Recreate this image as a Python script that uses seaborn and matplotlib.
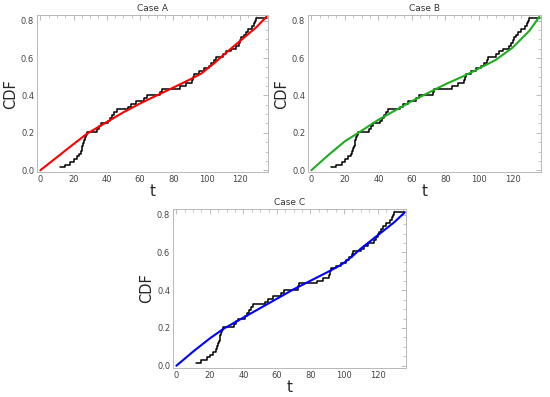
import numpy as np
import pandas as pd
import matplotlib
matplotlib.use("Agg")
import matplotlib.pyplot as plt
import seaborn as sns
from matplotlib.ticker import MultipleLocator

# empirical CDF (same in every panel)
step_t = [12, 15, 18, 20, 22, 23.5, 24.3, 24.8, 25.3, 25.8, 26.3, 26.8, 27.3, 27.8,
          34.3, 35.5, 36.8, 41, 42.2, 43.3, 44.5, 46, 53, 54.5, 57.5, 62.5, 64,
          72.3, 73, 84, 87.5, 91.2, 91.6, 92.5, 95.5, 98.5, 101.5, 103, 104.5, 105.5,
          110, 112, 114.5, 118, 119.3, 120.3, 121, 122.3, 123.5, 125, 127.6, 128.5,
          129.3, 130, 136.5]
step_y = [0.015, 0.029, 0.044, 0.059, 0.074, 0.088, 0.103, 0.118, 0.132, 0.147, 0.162,
          0.176, 0.191, 0.205, 0.22, 0.235, 0.25, 0.265, 0.28, 0.295, 0.31, 0.326,
          0.34, 0.355, 0.37, 0.385, 0.4, 0.42, 0.436, 0.45, 0.465, 0.48, 0.5, 0.515,
          0.53, 0.545, 0.56, 0.575, 0.59, 0.605, 0.62, 0.635, 0.65, 0.665, 0.68,
          0.695, 0.71, 0.725, 0.74, 0.755, 0.77, 0.785, 0.80, 0.815, 0.815]

# fitted curves
curve_t = [0, 10, 20, 28, 40, 50, 60, 70, 80, 90, 97, 100, 105, 110, 120, 130, 136]
curve_a = [0, 0.07, 0.14, 0.195, 0.258, 0.31, 0.357, 0.4, 0.442, 0.485, 0.518, 0.54,
           0.575, 0.615, 0.69, 0.765, 0.82]
curve_b = [0, 0.08, 0.155, 0.2, 0.27, 0.32, 0.37, 0.415, 0.46, 0.5, 0.53, 0.545, 0.567,
           0.59, 0.655, 0.745, 0.82]
curve_c = [0, 0.075, 0.145, 0.195, 0.255, 0.305, 0.355, 0.405, 0.45, 0.495, 0.528, 0.545,
           0.58, 0.62, 0.69, 0.76, 0.81]

titles = ["Case A", "Case B", "Case C"]
colors = ["#ff0000", "#22aa22", "#0000ff"]
curves = [curve_a, curve_b, curve_c]

sns.set_style("white")
plt.rcParams['font.family'] = ['DejaVu Sans']

fig = plt.figure(figsize=(5.5, 3.97), dpi=100)
W, H = 550, 397
# frame boxes in pixels: left, top, right, bottom
boxes = [(37, 15, 268, 172.5), (308, 15, 541, 172.5), (173, 209, 406, 368)]

step_df = pd.DataFrame({"t": step_t, "y": step_y})

for i in range(3):
    l, t, r, b = boxes[i]
    ax = fig.add_axes([l / W, 1 - b / H, (r - l) / W, (b - t) / H])
    cdf = pd.DataFrame({"t": curve_t, "y": curves[i]})
    sns.lineplot(data=step_df, x="t", y="y", drawstyle="steps-post", color="black",
                 lw=1.1, estimator=None, ax=ax)
    sns.lineplot(data=cdf, x="t", y="y", color=colors[i], lw=1.5, estimator=None, ax=ax)
    ax.set_xlim(-2, 137)
    ax.set_ylim(-0.012, 0.83)
    ax.xaxis.set_major_locator(MultipleLocator(20))
    ax.xaxis.set_minor_locator(MultipleLocator(5))
    ax.yaxis.set_minor_locator(MultipleLocator(0.05))
    ax.set_yticks([0, 0.2, 0.4, 0.6, 0.8])
    ax.set_yticklabels(["0.0", "0.2", "0.4", "0.6", "0.8"])
    ax.tick_params(which="both", direction="in", top=True, right=True, color="#b0b0b0",
                   labelsize=6, labelcolor="#444444", pad=2)
    ax.tick_params(which="major", length=3.5, width=0.6)
    ax.tick_params(which="minor", length=2, width=0.5)
    for s in ax.spines.values():
        s.set_color("#b8b8b8")
        s.set_linewidth(0.7)
    ax.set_title(titles[i], fontsize=6.5, color="#333333", pad=3)
    ax.set_xlabel("t", fontsize=11, labelpad=0)
    ax.set_ylabel("CDF", fontsize=10.5, labelpad=2)

fig.savefig("out.png", dpi=100)
